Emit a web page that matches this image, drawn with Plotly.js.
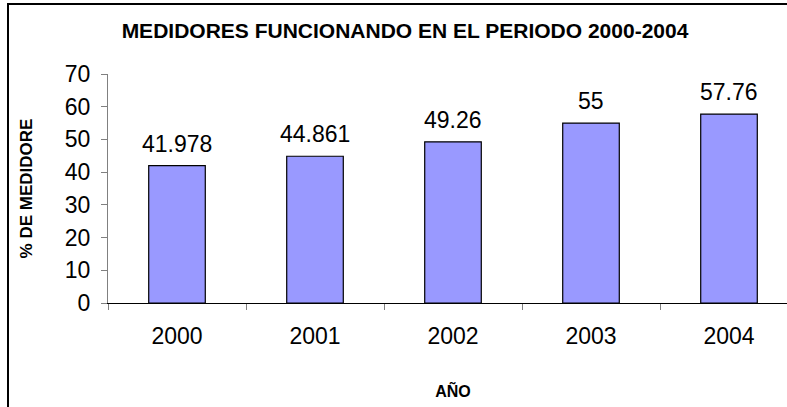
<!DOCTYPE html>
<html>
<head>
<meta charset="utf-8">
<script src="https://cdn.plot.ly/plotly-3.0.1.min.js"></script>
<style>
  html, body { margin: 0; padding: 0; overflow: hidden; background: #fff; }
  #wrap { position: relative; width: 787px; height: 407px; overflow: hidden; }
  #chart { position: absolute; left: 0; top: 0; width: 810px; height: 407px; }
  #frame { position: absolute; left: 7px; top: 3px; width: 900px; height: 900px;
           border-top: 2px solid #000; border-left: 2px solid #000; pointer-events: none; }
</style>
</head>
<body>
<div id="wrap">
  <div id="chart"></div>
  <div id="frame"></div>
</div>
<script>
const years = ['2000', '2001', '2002', '2003', '2004'];
const values = [41.978, 44.861, 49.26, 55, 57.76];
const valueLabels = ['41.978', '44.861', '49.26', '55', '57.76'];
const yTicks = [0, 10, 20, 30, 40, 50, 60, 70];

const FONT = 'Liberation Sans, Arial, sans-serif';

const trace = {
  type: 'bar',
  x: years,
  y: values,
  marker: { color: '#9999FF', line: { color: '#000000', width: 1.2 } },
  hoverinfo: 'x+y'
};

const annotations = years.map((yr, i) => ({
  x: i, y: values[i], xref: 'x', yref: 'y',
  text: valueLabels[i], showarrow: false,
  yanchor: 'bottom', xanchor: 'center', yshift: 7,
  font: { family: FONT, size: 23, color: '#000' }
}));

const layout = {
  width: 810, height: 407,
  margin: { l: 108, r: 12, t: 74, b: 104 },
  paper_bgcolor: '#fff', plot_bgcolor: '#fff',
  showlegend: false,
  bargap: 0.59,
  title: {
    text: 'MEDIDORES FUNCIONANDO EN EL PERIODO 2000-2004',
    x: 0.5, xanchor: 'center', y: 1 - 31 / 407, yanchor: 'middle', yref: 'container',
    font: { family: FONT, size: 21, weight: 'bold', color: '#000' }
  },
  xaxis: {
    type: 'category',
    categoryorder: 'array', categoryarray: years,
    range: [-0.5, years.length - 0.5], autorange: false,
    tickson: 'boundaries',
    ticks: 'outside', ticklen: 6, tickcolor: '#808080', tickwidth: 1,
    showline: true, linecolor: '#000', linewidth: 1,
    showgrid: false, zeroline: false,
    tickangle: 0,
    tickfont: { family: FONT, size: 23, color: '#000' },
    ticklabelstandoff: 12,
    title: { text: 'AÑO', standoff: 38, font: { family: FONT, size: 16, weight: 'bold', color: '#000' } }
  },
  yaxis: {
    range: [0, 70], autorange: false, tickvals: yTicks, ticktext: yTicks.map(String),
    ticks: 'outside', ticklen: 6, tickcolor: '#808080', tickwidth: 1,
    showline: true, linecolor: '#808080', linewidth: 1,
    showgrid: false, zeroline: false,
    tickfont: { family: FONT, size: 23, color: '#000' },
    ticklabelstandoff: 6,
    title: { text: '% DE MEDIDORE', standoff: 27, font: { family: FONT, size: 17, weight: 'bold', color: '#000' } }
  },
  annotations: annotations
};

Plotly.newPlot('chart', [trace], layout, { displayModeBar: false, staticPlot: true });
</script>
</body>
</html>
